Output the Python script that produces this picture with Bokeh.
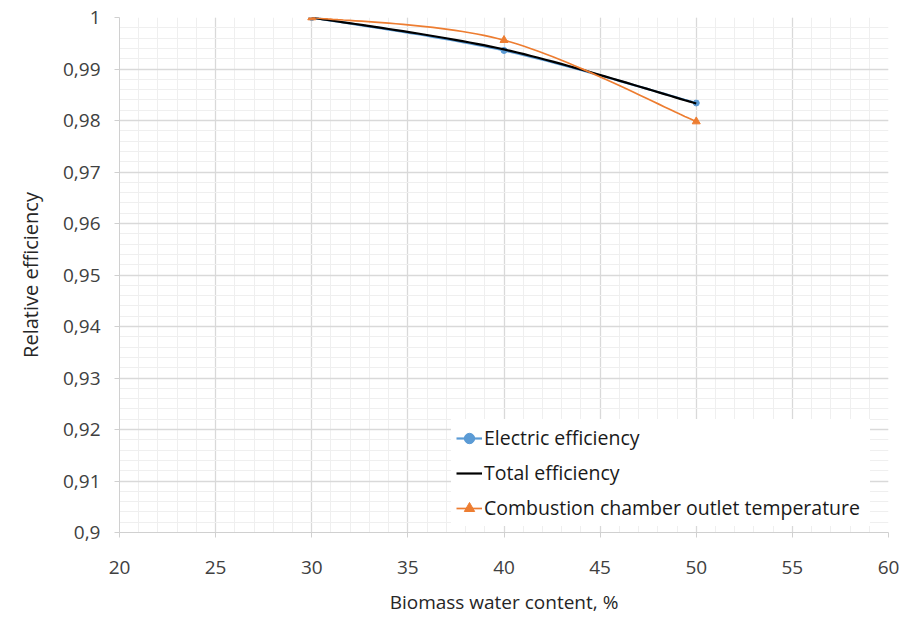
from bokeh.plotting import figure
from bokeh.models import (FixedTicker, CustomJSTickFormatter, Legend, LegendItem, Range1d)
from bokeh.embed import file_html
from bokeh.resources import INLINE

# Data
water_content = [30, 40, 50]
electric_eff = [1.0, 0.9936, 0.9834]
total_eff = [1.0, 0.9938, 0.9833]
combustion_temp = [1.0, 0.9956, 0.9798]

x_ticks = [20, 25, 30, 35, 40, 45, 50, 55, 60]
x_minor = list(range(20, 61))
y_ticks = [0.90, 0.91, 0.92, 0.93, 0.94, 0.95, 0.96, 0.97, 0.98, 0.99, 1.00]
y_minor = [round(0.9 + 0.002 * i, 3) for i in range(51)]


def smooth(xs, ys, n=30):
    """Excel-like smoothed curve (Catmull-Rom Bezier) through the data points."""
    pts = list(zip(xs, ys))
    outx, outy = [], []
    for i in range(len(pts) - 1):
        p0 = pts[i - 1] if i > 0 else pts[i]
        p1 = pts[i]
        p2 = pts[i + 1]
        p3 = pts[i + 2] if i + 2 < len(pts) else pts[i + 1]
        c1 = (p1[0] + (p2[0] - p0[0]) / 6, p1[1] + (p2[1] - p0[1]) / 6)
        c2 = (p2[0] - (p3[0] - p1[0]) / 6, p2[1] - (p3[1] - p1[1]) / 6)
        for k in range(n + (1 if i == len(pts) - 2 else 0)):
            t = k / n
            a = (1 - t) ** 3
            b = 3 * (1 - t) ** 2 * t
            c = 3 * (1 - t) * t ** 2
            d = t ** 3
            outx.append(a * p1[0] + b * c1[0] + c * c2[0] + d * p2[0])
            outy.append(a * p1[1] + b * c1[1] + c * c2[1] + d * p2[1])
    return outx, outy


FONT = "Open Sans"

p = figure(width=912, height=617, output_backend="svg", toolbar_location=None,
           x_range=Range1d(20, 60), y_range=Range1d(0.9, 1.0),
           min_border_left=119, min_border_right=24, min_border_top=17, min_border_bottom=80)
p.outline_line_color = None
p.background_fill_color = "white"

p.xaxis.ticker = FixedTicker(ticks=x_ticks, minor_ticks=x_minor)
p.yaxis.ticker = FixedTicker(ticks=y_ticks, minor_ticks=y_minor)
p.yaxis.formatter = CustomJSTickFormatter(code="""
    return tick.toFixed(2).replace(/0+$/, '').replace(/\\.$/, '').replace('.', ',');
""")

p.xgrid.grid_line_color = "#d9d9d9"
p.ygrid.grid_line_color = "#d9d9d9"
p.xgrid.minor_grid_line_color = "#efefef"
p.ygrid.minor_grid_line_color = "#efefef"
p.xgrid.grid_line_width = 1.3
p.ygrid.grid_line_width = 1.3

for ax in (p.xaxis, p.yaxis):
    ax.axis_line_color = "#d0d0d0"
    ax.major_tick_line_color = "#d0d0d0"
    ax.minor_tick_in = 0
    ax.minor_tick_out = 0
    ax.major_tick_in = 0
    ax.major_tick_out = 5
    ax.major_label_text_font = FONT
    ax.major_label_text_font_size = "19px"
    ax.major_label_text_color = "#404040"
    ax.axis_label_text_font = FONT
    ax.axis_label_text_color = "#262626"
    ax.axis_label_text_font_style = "normal"

p.xaxis.axis_label = "Biomass water content, %"
p.yaxis.axis_label = "Relative efficiency"
p.xaxis.axis_label_text_font_size = "19px"
p.yaxis.axis_label_text_font_size = "20px"
p.xaxis.major_label_standoff = 23
p.yaxis.major_label_standoff = 14
p.xaxis.axis_label_standoff = 12
p.yaxis.axis_label_standoff = 16

ex, ey = smooth(water_content, electric_eff)
tx, ty = smooth(water_content, total_eff)
cx, cy = smooth(water_content, combustion_temp)

BLUE = "#5b9bd5"
ORANGE = "#ed7d31"

l1 = p.line(ex, ey, line_color=BLUE, line_width=2.2)
s1 = p.scatter(water_content, electric_eff, marker="circle", size=6,
               fill_color=BLUE, line_color=BLUE)
l2 = p.line(tx, ty, line_color="black", line_width=2.2)
l3 = p.line(cx, cy, line_color=ORANGE, line_width=1.7)
s3 = p.scatter(water_content, combustion_temp, marker="triangle", size=8,
               fill_color=ORANGE, line_color=ORANGE)

legend = Legend(items=[
    LegendItem(label="Electric efficiency", renderers=[l1, s1]),
    LegendItem(label="Total efficiency", renderers=[l2]),
    LegendItem(label="Combustion chamber outlet temperature", renderers=[l3, s3]),
], location=(332, 6))
legend.margin = 0
legend.padding = 5
legend.spacing = 8
legend.glyph_width = 26
legend.glyph_height = 26
legend.label_height = 26
legend.label_standoff = 2
legend.label_width = 381
legend.border_line_alpha = 0
legend.background_fill_color = "white"
legend.background_fill_alpha = 1
legend.label_text_font = FONT
legend.label_text_font_size = "19.5px"
legend.label_text_color = "#1a1a1a"
p.add_layout(legend, "center")

open("out.html", "w").write(file_html(p, INLINE))
